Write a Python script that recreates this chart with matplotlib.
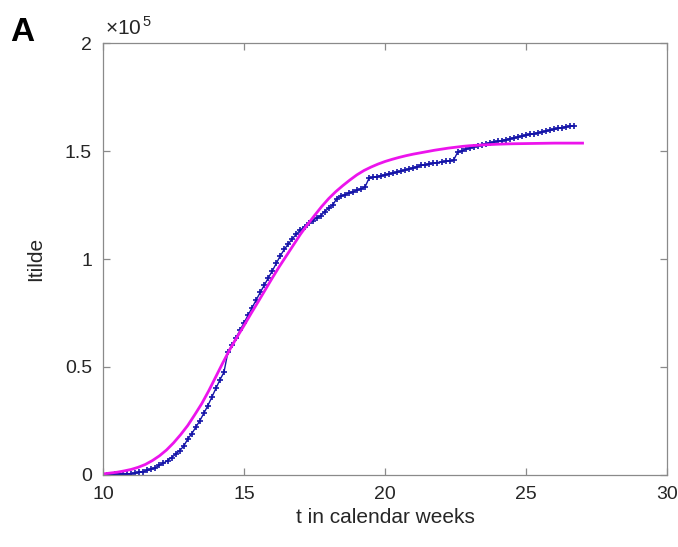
import numpy as np
import matplotlib.pyplot as plt

plt.rcParams['font.family'] = ['Liberation Sans', 'DejaVu Sans']
plt.rcParams['mathtext.fontset'] = 'custom'
plt.rcParams['mathtext.rm'] = 'Liberation Sans'

# daily cumulative infections (x1e5), starting calendar week 10
t_start = 10.0
itilde = [
    0.000, 0.001, 0.001, 0.002, 0.002, 0.003, 0.004,
    0.006, 0.008, 0.011, 0.015, 0.020, 0.026, 0.033,
    0.045, 0.054, 0.066, 0.080, 0.095, 0.112, 0.132,
    0.165, 0.190, 0.220, 0.250, 0.285, 0.320, 0.360,
    0.400, 0.440, 0.475, 0.570, 0.600, 0.635, 0.670,
    0.705, 0.740, 0.775, 0.810, 0.845, 0.878, 0.912,
    0.945, 0.980, 1.015, 1.045, 1.070, 1.095, 1.115,
    1.135, 1.150, 1.165, 1.178, 1.190, 1.200, 1.220,
    1.235, 1.250, 1.280, 1.290, 1.298, 1.305, 1.312,
    1.318, 1.325, 1.333, 1.374, 1.378, 1.382, 1.386,
    1.390, 1.394, 1.398, 1.402, 1.407, 1.412, 1.417,
    1.422, 1.428, 1.434, 1.437, 1.440, 1.444, 1.447,
    1.450, 1.452, 1.455, 1.458, 1.495, 1.500, 1.508,
    1.515, 1.520, 1.525, 1.530, 1.534, 1.538, 1.542,
    1.545, 1.549, 1.553, 1.557, 1.561, 1.565, 1.569,
    1.573, 1.577, 1.581, 1.585, 1.589, 1.593, 1.597,
    1.601, 1.605, 1.609, 1.613, 1.616, 1.618,
]

# fitted curve (x1e5)
t_fit = [10.0, 10.25, 10.5, 10.75, 11.0, 11.25, 11.5, 11.75, 12.0, 12.25,
         12.5, 12.75, 13.0, 13.25, 13.5, 13.75, 14.0, 14.25, 14.5, 14.75,
         15.0, 15.25, 15.5, 15.75, 16.0, 16.25, 16.5, 16.75, 17.0, 17.25,
         17.5, 17.75, 18.0, 18.25, 18.5, 18.75, 19.0, 19.25, 19.5, 19.75,
         20.0, 20.25, 20.5, 20.75, 21.0, 21.25, 21.5, 21.75, 22.0, 22.25,
         22.5, 22.75, 23.0, 23.5, 24.0, 24.5, 25.0, 25.5, 26.0, 26.5, 27.0]
i_fit = [0.004, 0.008, 0.012, 0.018, 0.025, 0.035, 0.048, 0.066, 0.088, 0.115,
         0.148, 0.186, 0.228, 0.278, 0.330, 0.390, 0.455, 0.520, 0.582, 0.638,
         0.692, 0.748, 0.802, 0.857, 0.912, 0.965, 1.015, 1.065, 1.115, 1.160,
         1.202, 1.243, 1.280, 1.312, 1.340, 1.366, 1.390, 1.410, 1.426, 1.440,
         1.452, 1.462, 1.471, 1.479, 1.486, 1.492, 1.498, 1.504, 1.509, 1.514,
         1.518, 1.522, 1.525, 1.529, 1.532, 1.534, 1.535, 1.536, 1.537, 1.537, 1.537]

xticks = [10, 15, 20, 25, 30]
yticks = [0, 0.5, 1, 1.5, 2]

t_days = t_start + np.arange(len(itilde)) / 7.0

fig = plt.figure(figsize=(6.78, 5.47), dpi=100)
ax = fig.add_axes([0.152, 0.132, 0.832, 0.789])

ax.plot(t_days, itilde, linestyle='-', linewidth=1.0, marker='+', color='#1414a8',
        markersize=5, markeredgewidth=1.2)
ax.plot(t_fit, i_fit, color='#ec14ec', linewidth=2)

ax.set_xlim(10, 30)
ax.set_ylim(0, 2)
ax.set_xticks(xticks)
ax.set_yticks(yticks)
ax.set_yticklabels(['{:g}'.format(v) for v in yticks])
for s in ax.spines.values():
    s.set_color('#8a8a8a')
    s.set_linewidth(0.9)
ax.tick_params(direction='in', length=5, width=0.9, color='#8a8a8a',
               labelsize=14, labelcolor='#262626', top=True, right=True, pad=8)

ax.set_xlabel('t in calendar weeks', fontsize=15, color='#262626', labelpad=4)
ax.set_ylabel('Itilde', fontsize=15, color='#262626', labelpad=14)
ax.text(0.003, 1.01, r'$\times10^{\,5}$', transform=ax.transAxes, fontsize=15,
        color='#262626', ha='left', va='bottom')
fig.text(0.015, 0.925, 'A', fontsize=24, fontweight='bold', color='black')

fig.savefig('out.png', dpi=100)
